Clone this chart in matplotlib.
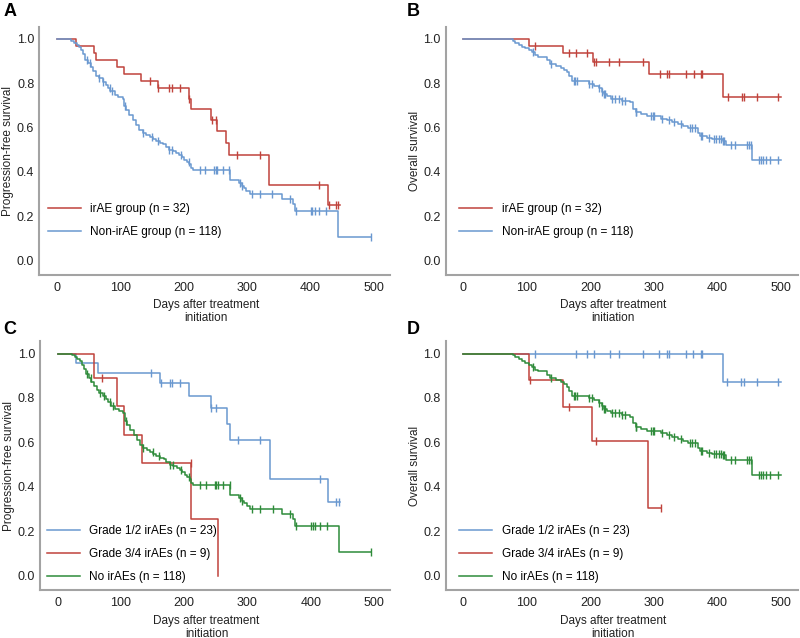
import numpy as np
import matplotlib
matplotlib.use("Agg")
import matplotlib.pyplot as plt

plt.rcParams['font.family'] = ['Liberation Sans', 'DejaVu Sans']

# --- data (days, survival after each event) ---
# A / C: progression-free survival
pfs_irae_t = [30, 58, 62, 94, 105, 133, 159, 208, 211, 243, 252, 267, 271, 334, 427]
pfs_irae_s = [0.969, 0.938, 0.906, 0.875, 0.844, 0.812, 0.779, 0.730, 0.683, 0.636,
              0.584, 0.530, 0.476, 0.340, 0.250]
pfs_irae_c = [147, 160, 177, 181, 194, 208, 244, 251, 284, 320, 413, 429, 440, 444]
pfs_irae_end = 446

pfs_non_t = [22, 27, 31, 35, 38, 41, 45, 49, 53, 57, 62, 66, 72, 77, 80, 84, 91, 97, 104, 106,
             109, 114, 120, 125, 130, 135, 141, 146, 151, 156, 162, 168, 172, 177, 183, 188,
             193, 197, 201, 205, 209, 211, 214, 273, 287, 292, 295, 299, 304, 355, 372, 375, 444]
pfs_non_s = [0.992, 0.983, 0.975, 0.966, 0.949, 0.932, 0.907, 0.890, 0.873, 0.856,
             0.835, 0.822, 0.807, 0.793, 0.780, 0.764, 0.748, 0.740, 0.731, 0.695,
             0.680, 0.656, 0.633, 0.610, 0.588, 0.576, 0.566, 0.558, 0.549, 0.540,
             0.531, 0.524, 0.513, 0.499, 0.495, 0.486, 0.476, 0.466, 0.453, 0.444,
             0.434, 0.416, 0.407, 0.362, 0.350, 0.336, 0.325, 0.314, 0.300, 0.277,
             0.256, 0.224, 0.107]
pfs_non_c = [47, 52, 67, 73, 83, 87, 108, 135, 150, 160, 177, 182, 195, 208, 225, 234, 248,
             251, 253, 262, 272, 289, 292, 307, 320, 340, 368, 377, 400, 403, 407, 414, 425, 496]
pfs_non_end = 496

pfs_g12_t = [29, 63, 162, 208, 242, 268, 272, 335, 428]
pfs_g12_s = [0.957, 0.913, 0.866, 0.808, 0.754, 0.683, 0.612, 0.436, 0.329]
pfs_g12_c = [147, 163, 177, 181, 194, 243, 251, 285, 320, 415, 440, 444]
pfs_g12_end = 446

pfs_g34_t = [58, 94, 105, 134, 211, 253]
pfs_g34_s = [0.889, 0.762, 0.635, 0.508, 0.254, 0.0]
pfs_g34_c = [70, 210]
pfs_g34_end = 253

# B / D: overall survival
os_irae_t = [103, 157, 204, 292, 409]
os_irae_s = [0.969, 0.935, 0.898, 0.842, 0.737]
os_irae_c = [112, 167, 178, 195, 206, 209, 229, 245, 283, 309, 321, 324, 350, 363, 374, 376,
             416, 438, 441, 462, 495]
os_irae_end = 500

os_non_t = [78, 82, 87, 92, 97, 103, 108, 112, 118, 132, 137, 145, 153, 158, 163, 167, 171,
            197, 205, 213, 218, 222, 226, 232, 250, 262, 267, 271, 279, 289, 311, 321, 329,
            337, 345, 353, 370, 373, 384, 392, 409, 413, 455]
os_non_s = [0.992, 0.983, 0.975, 0.966, 0.958, 0.950, 0.940, 0.928, 0.920, 0.903,
            0.888, 0.879, 0.871, 0.862, 0.850, 0.832, 0.810, 0.798, 0.789, 0.779,
            0.762, 0.752, 0.742, 0.731, 0.722, 0.714, 0.685, 0.670, 0.662, 0.650,
            0.640, 0.632, 0.624, 0.617, 0.607, 0.598, 0.575, 0.561, 0.553, 0.548,
            0.541, 0.519, 0.452]
os_non_c = [109, 138, 174, 176, 179, 197, 203, 213, 218, 222, 223, 234, 239, 245, 250, 255,
            271, 272, 296, 299, 300, 313, 324, 331, 342, 357, 360, 364, 374, 376, 387, 395,
            397, 403, 406, 409, 410, 421, 428, 447, 450, 453, 465, 468, 472, 477, 482, 495]
os_non_end = 500

os_g12_t = [409]
os_g12_s = [0.874]
os_g12_c = [112, 177, 195, 205, 230, 245, 282, 308, 321, 324, 350, 362, 374, 376, 415, 437,
            441, 462, 495]
os_g12_end = 500

os_g34_t = [103, 157, 203, 291]
os_g34_s = [0.883, 0.757, 0.607, 0.303]
os_g34_c = [105, 167, 209, 311]
os_g34_end = 311

RED = '#c0433c'
BLUE = '#6a98d0'
GREEN = '#2e8b3a'
FS = 8.5


def km(ax, t, s, c, end, color, label):
    tt = [0] + list(t) + [end]
    ss = [1.0] + list(s) + [s[-1]]
    ax.step(tt, ss, where='post', color=color, lw=1.1, label=label)
    tt_arr = np.array([0] + list(t))
    ss_arr = np.array([1.0] + list(s))
    cy = [ss_arr[np.searchsorted(tt_arr, x, side='right') - 1] for x in c]
    ax.plot(c, cy, '|', color=color, ms=6, mew=1.0)


def style(ax, ylabel, leg_x, leg_y):
    ax.set_xlim(-28, 526)
    ax.set_ylim(-0.066, 1.055)
    ax.set_xticks([0, 100, 200, 300, 400, 500])
    ax.set_yticks([0.0, 0.2, 0.4, 0.6, 0.8, 1.0])
    ax.set_yticklabels(['0.0', '0.2', '0.4', '0.6', '0.8', '1.0'])
    for sp in ['top', 'right']:
        ax.spines[sp].set_visible(False)
    for sp in ['left', 'bottom']:
        ax.spines[sp].set_color('#a3a3a3')
        ax.spines[sp].set_linewidth(1.5)
    ax.tick_params(axis='y', length=0, labelsize=FS + 0.5, labelcolor='#222222', pad=3.5)
    ax.tick_params(axis='x', length=0, labelsize=FS + 0.5, labelcolor='#222222', pad=5)
    ax.set_ylabel(ylabel, fontsize=FS, color='#222222', labelpad=2)
    ax.set_xlabel('Days after treatment\ninitiation', fontsize=FS, color='#222222',
                  linespacing=1.1, x=0.475, labelpad=4)
    ax.legend(loc='center left', bbox_to_anchor=(leg_x, leg_y), frameon=False, fontsize=FS,
              borderpad=0, borderaxespad=0, handlelength=2.8, handletextpad=0.8,
              labelspacing=0.9)


fig = plt.figure(figsize=(8, 6.38), dpi=100)
axA = fig.add_axes([0.049, 0.569, 0.439, 0.389])
axB = fig.add_axes([0.557, 0.569, 0.440, 0.389])
axC = fig.add_axes([0.050, 0.075, 0.438, 0.390])
axD = fig.add_axes([0.557, 0.075, 0.440, 0.390])

km(axA, pfs_irae_t, pfs_irae_s, pfs_irae_c, pfs_irae_end, RED, 'irAE group (n = 32)')
km(axA, pfs_non_t, pfs_non_s, pfs_non_c, pfs_non_end, BLUE, 'Non-irAE group (n = 118)')
style(axA, 'Progression-free survival', 0.025, 0.22)

km(axB, os_irae_t, os_irae_s, os_irae_c, os_irae_end, RED, 'irAE group (n = 32)')
km(axB, os_non_t, os_non_s, os_non_c, os_non_end, BLUE, 'Non-irAE group (n = 118)')
style(axB, 'Overall survival', 0.039, 0.22)

km(axC, pfs_g12_t, pfs_g12_s, pfs_g12_c, pfs_g12_end, BLUE, 'Grade 1/2 irAEs (n = 23)')
km(axC, pfs_g34_t, pfs_g34_s, pfs_g34_c, pfs_g34_end, RED, 'Grade 3/4 irAEs (n = 9)')
km(axC, pfs_non_t, pfs_non_s, pfs_non_c, pfs_non_end, GREEN, 'No irAEs (n = 118)')
style(axC, 'Progression-free survival', 0.019, 0.145)

km(axD, os_g12_t, os_g12_s, os_g12_c, os_g12_end, BLUE, 'Grade 1/2 irAEs (n = 23)')
km(axD, os_g34_t, os_g34_s, os_g34_c, os_g34_end, RED, 'Grade 3/4 irAEs (n = 9)')
km(axD, os_non_t, os_non_s, os_non_c, os_non_end, GREEN, 'No irAEs (n = 118)')
style(axD, 'Overall survival', 0.039, 0.145)

for lab, x, y in [('A', 0.004, 0.995), ('B', 0.509, 0.995), ('C', 0.004, 0.497), ('D', 0.509, 0.497)]:
    fig.text(x, y, lab, fontsize=13, fontweight='bold', va='top', ha='left')

fig.savefig('out.png', dpi=100)
